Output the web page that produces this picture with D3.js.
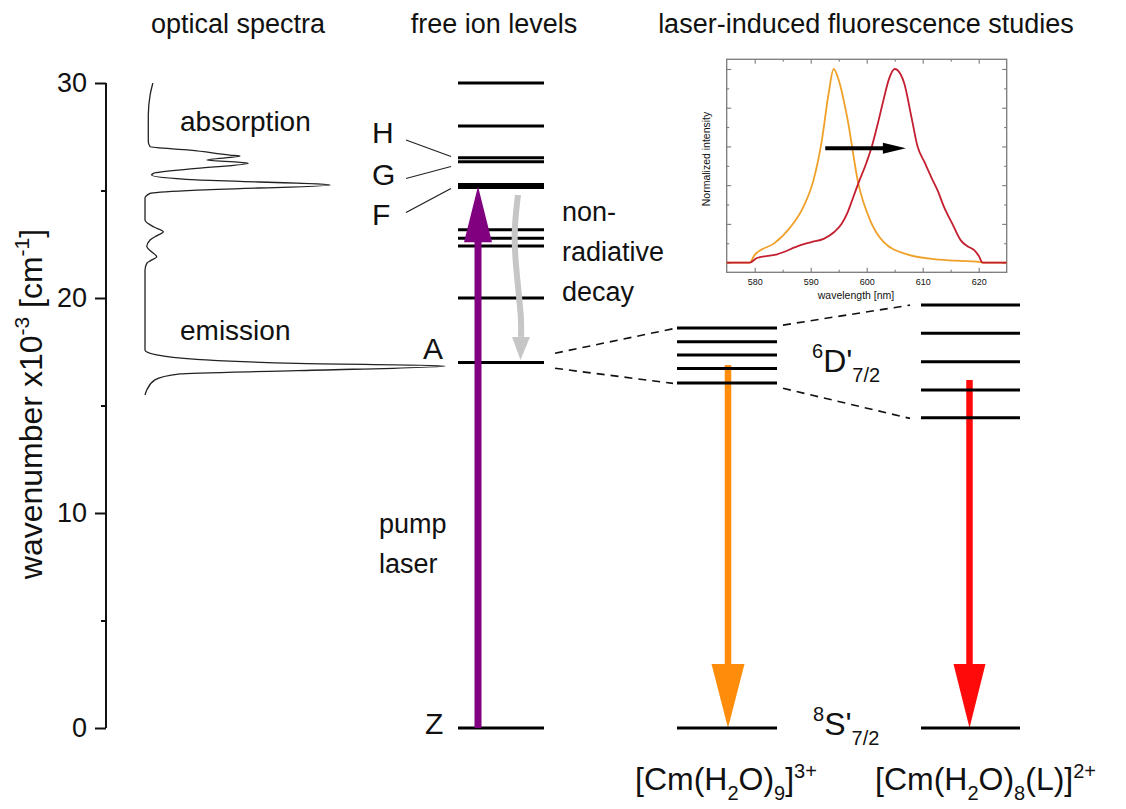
<!DOCTYPE html>
<html>
<head>
<meta charset="utf-8">
<script src="https://cdn.jsdelivr.net/npm/d3@7"></script>
<style>
  body { margin: 0; background: #fff; }
  svg { display: block; }
  text { font-family: "Liberation Sans", Arial, sans-serif; fill: #111; }
</style>
</head>
<body>
<svg id="chart" width="1126" height="809"></svg>
<script>
// ---- energy axis (wavenumber, 10^3 cm^-1) ----
const wnTicks = [0, 10, 20, 30];
const wnMinorTicks = [5, 15, 25];

// ---- free Cm(III) ion levels ----
const freeIonLevels = [30.0, 28.0, 26.52, 26.34, 25.28, 25.14, 23.17, 22.78, 22.42, 20.0, 17.0, 0];
const levelNames = ["H", "G", "F"];
const levelNameTargets = [26.52, 26.43, 25.2];   // where the pointer lines end
const emittingLevel = 17.0;                      // A
const groundLevel = 0;                           // Z

// ---- crystal-field split 6D'7/2 levels ----
const aquoLevels = [18.60, 17.97, 17.35, 16.72, 16.05];    // [Cm(H2O)9]3+
const ligandLevels = [19.67, 18.36, 17.03, 15.72, 14.43];  // [Cm(H2O)8(L)]2+

// ---- transitions ----
const pumpTransition = [0, 25.2];
const decayTransition = [24.79, 17.12];
const aquoEmission = [16.88, 0];
const ligandEmission = [16.19, 0];

// dashed connectors (start / end wavenumber)
const splitLinksFrom = [17.43, 16.73];
const splitLinksTo = [18.57, 16.03];
const shiftLinksFrom = [18.74, 15.80];
const shiftLinksTo = [19.67, 14.40];

// ---- optical spectrum (absorption + emission), relative intensity ----
const spectrumWn = [29.99, 29.44, 28.5, 27.27, 27.04, 26.88, 26.65, 26.60, 26.42, 26.31, 26.27, 26.03,
  25.80, 25.72, 25.49, 25.26, 25.02, 24.87, 24.64, 23.63, 23.30, 23.08, 22.90, 22.70, 22.39, 22.15,
  21.92, 21.75, 21.61, 21.30, 17.58, 17.35, 17.15, 16.96, 16.84, 16.62, 16.47, 16.19, 15.72, 15.49];
const spectrumInt = [0.026, 0.017, 0.011, 0.011, 0.017, 0.15, 0.283, 0.317, 0.206, 0.317, 0.344, 0.172,
  0.028, 0.022, 0.172, 0.617, 0.172, 0.017, 0.0, 0.0, 0.03, 0.061, 0.04, 0.017, 0.006, 0.022,
  0.039, 0.02, 0.006, 0.0, 0.0, 0.039, 0.172, 0.506, 1.0, 0.506, 0.117, 0.033, 0.006, 0.0];

// ---- fluorescence spectra (normalized) ----
const aquoWl = [575, 579.1, 580.0, 580.7, 583.4, 586.4, 588.7, 590.5, 592.0, 593.2, 594.1, 595.0, 596.5,
  598.5, 600.6, 603.0, 607.2, 613.1, 620.3, 621.0, 625];
const aquoInt = [0, 0, 0.04, 0.058, 0.098, 0.184, 0.288, 0.426, 0.633, 0.874, 1.0, 0.943, 0.753,
  0.409, 0.219, 0.107, 0.043, 0.015, 0.003, 0, 0];
const ligandWl = [575, 579.1, 580.4, 584.0, 588.2, 590.0, 592.4, 594.2, 595.5, 596.5, 597.5, 598.5, 600.0,
  600.9, 602.0, 603.0, 604.0, 605.0, 606.0, 606.7, 608.0, 609.1, 610.3, 611.5, 612.7, 613.8, 615.3,
  616.8, 618.0, 619.2, 620.0, 620.7, 625];
const ligandInt = [0, 0, 0.024, 0.043, 0.09, 0.105, 0.124, 0.158, 0.2, 0.253, 0.33, 0.409, 0.52,
  0.598, 0.72, 0.84, 0.95, 1.0, 0.975, 0.926, 0.75, 0.598, 0.52, 0.443, 0.37, 0.288, 0.2,
  0.115, 0.085, 0.064, 0.035, 0, 0];
const insetXTicks = [580, 590, 600, 610, 620];
const insetXMinor = [585, 595, 605, 615];
const insetYTicks = [0, 0.2, 0.4, 0.6, 0.8, 1.0];
const insetYMinor = [0.1, 0.3, 0.5, 0.7, 0.9];
const shiftArrow = [592.6, 607.0, 0.59];   // from wl, to wl, at intensity

// ================= drawing =================
const svg = d3.select("#chart");
const y = d3.scaleLinear().domain([0, 30]).range([728, 83]);

// column extents
const colFree = [458, 544], colAquo = [677, 777], colLig = [921, 1020];

// ---- titles ----
const titles = [["optical spectra", 238], ["free ion levels", 494], ["laser-induced fluorescence studies", 866]];
svg.selectAll("text.title").data(titles).join("text")
  .attr("class", "title").attr("x", d => d[1]).attr("y", 33)
  .attr("text-anchor", "middle").attr("font-size", 27).text(d => d[0]);

// ---- left axis ----
const axisG = svg.append("g").attr("transform", "translate(106,0)");
axisG.call(d3.axisLeft(y).tickValues(wnTicks).tickSize(11).tickPadding(8).tickFormat(d3.format("d")));
axisG.append("g").call(d3.axisLeft(y).tickValues(wnMinorTicks).tickSize(5).tickFormat(""))
  .select(".domain").remove();
axisG.selectAll(".domain, line").attr("stroke", "#111").attr("stroke-width", 2);
axisG.select(".domain").attr("d", `M0,${y(30)}V${y(0)}`);
axisG.selectAll("text").attr("font-size", 27).attr("font-family", '"Liberation Sans", Arial, sans-serif').attr("fill", "#111");

const yTitle = svg.append("text").attr("transform", "translate(42,404) rotate(-90)")
  .attr("text-anchor", "middle").attr("font-size", 32);
yTitle.append("tspan").text("wavenumber x10");
yTitle.append("tspan").attr("font-size", 21).attr("dy", -13).text("-3");
yTitle.append("tspan").attr("dy", 13).text(" [cm");
yTitle.append("tspan").attr("font-size", 21).attr("dy", -13).text("-1");
yTitle.append("tspan").attr("dy", 13).text("]");

// ---- optical spectrum ----
const sx = d3.scaleLinear().domain([0, 1]).range([145, 445]);
const spectrum = spectrumWn.map((w, i) => [sx(spectrumInt[i]), y(w)]);
svg.append("path").attr("d", d3.line().curve(d3.curveMonotoneY)(spectrum))
  .attr("fill", "none").attr("stroke", "#222").attr("stroke-width", 1.3);
svg.append("text").attr("x", 180).attr("y", 131).attr("font-size", 28).text("absorption");
svg.append("text").attr("x", 180).attr("y", 340).attr("font-size", 28).text("emission");

// ---- arrows ----
function verticalArrow(x, fromWn, toWn, color, shaftW, headLen, headW) {
  const y0 = y(fromWn), y1 = y(toWn);
  const dir = Math.sign(y1 - y0);
  const yb = y1 - dir * headLen;
  svg.append("line").attr("x1", x).attr("x2", x).attr("y1", y0).attr("y2", yb + dir)
    .attr("stroke", color).attr("stroke-width", shaftW);
  svg.append("path").attr("d", `M${x - headW / 2},${yb}L${x + headW / 2},${yb}L${x},${y1}Z`)
    .attr("fill", color);
}

// emission arrows sit beneath the split levels
verticalArrow((colAquo[0] + colAquo[1]) / 2 + 1, aquoEmission[0], aquoEmission[1], "#ff8c0a", 6.5, 64, 33);
verticalArrow((colLig[0] + colLig[1]) / 2 - 1, ligandEmission[0], ligandEmission[1], "#ff0a0a", 6.5, 64, 32);

// ---- level lines ----
function levels(vals, col) {
  svg.append("g").selectAll("line").data(vals).join("line")
    .attr("x1", col[0]).attr("x2", col[1]).attr("y1", d => y(d)).attr("y2", d => y(d))
    .attr("stroke", "#000").attr("stroke-width", 3);
}
levels(freeIonLevels, colFree);
levels(aquoLevels, colAquo);
levels([groundLevel], colAquo);
levels(ligandLevels, colLig);
levels([groundLevel], colLig);

// pump laser and non-radiative decay
verticalArrow(478, pumpTransition[0], pumpTransition[1], "#800080", 7, 56, 28);

const decayPts = [[518, decayTransition[0]], [513, 22.85], [518, 20.53], [521.5, 18.98], [521, 18.19]]
  .map(d => [d[0], y(d[1])]);
svg.append("path").attr("d", d3.line().curve(d3.curveBasis)(decayPts))
  .attr("fill", "none").attr("stroke", "#c6c6c6").attr("stroke-width", 6);
{
  const tip = y(decayTransition[1]), base = y(18.19);
  svg.append("path").attr("d", `M${512},${base}L${530},${base}L${520.5},${tip}Z`).attr("fill", "#c6c6c6");
}

// ---- level labels ----
svg.selectAll("text.lvl").data(levelNames).join("text").attr("class", "lvl")
  .attr("x", 372).attr("y", (d, i) => [143, 185, 225][i]).attr("font-size", 30).text(d => d);
svg.append("g").selectAll("line").data(levelNameTargets).join("line")
  .attr("x1", 406).attr("y1", (d, i) => [140, 178.5, 212.5][i])
  .attr("x2", 451).attr("y2", (d, i) => [156.5, 166.5, 188.5][i])
  .attr("stroke", "#222").attr("stroke-width", 1.2);
svg.append("text").attr("x", 423).attr("y", y(emittingLevel) - 4).attr("font-size", 30).text("A");
svg.append("text").attr("x", 425).attr("y", y(groundLevel) + 6).attr("font-size", 30).text("Z");

svg.append("text").attr("x", 379).attr("y", 533).attr("font-size", 27).text("pump");
svg.append("text").attr("x", 379).attr("y", 573).attr("font-size", 27).text("laser");
["non-", "radiative", "decay"].forEach((t, i) =>
  svg.append("text").attr("x", 562).attr("y", 221 + 40 * i).attr("font-size", 27).text(t));

// ---- dashed connectors ----
const dash = svg.append("g").attr("stroke", "#111").attr("stroke-width", 1.6)
  .attr("stroke-dasharray", "8,6").attr("fill", "none");
splitLinksFrom.forEach((w, i) =>
  dash.append("line").attr("x1", 555).attr("y1", y(w)).attr("x2", 673).attr("y2", y(splitLinksTo[i])));
shiftLinksFrom.forEach((w, i) =>
  dash.append("line").attr("x1", 783).attr("y1", y(w)).attr("x2", 910).attr("y2", y(shiftLinksTo[i])));

// ---- term symbols ----
function term(x, baseY, sup, main, sub) {
  const t = svg.append("text").attr("x", x).attr("y", baseY);
  t.append("tspan").attr("font-size", 20).attr("dy", -14).text(sup);
  t.append("tspan").attr("font-size", 32).attr("dy", 14).text(main);
  t.append("tspan").attr("font-size", 20).attr("dy", 10).text(sub);
}
term(812, 372, "6", "D'", "7/2");
term(813, 735, "8", "S'", "7/2");

// ---- complex labels ----
function formula(x, baseY, parts) {
  const t = svg.append("text").attr("x", x).attr("y", baseY).attr("font-size", 32);
  let off = 0;
  parts.forEach(p => {
    const shift = p[1] === "sub" ? 10 : p[1] === "sup" ? -12 : 0;
    t.append("tspan").attr("dy", shift - off).attr("font-size", p[1] ? 20 : 32).text(p[0]);
    off = shift;
  });
}
formula(635, 790, [["[Cm(H"], ["2", "sub"], ["O)"], ["9", "sub"], ["]"], ["3+", "sup"]]);
formula(875, 790, [["[Cm(H"], ["2", "sub"], ["O)"], ["8", "sub"], ["(L)]"], ["2+", "sup"]]);

// ---- inset: fluorescence spectra ----
const ix = d3.scaleLinear().domain([575, 625]).range([726.7, 1006.7]);
const iy = d3.scaleLinear().domain([-0.05, 1.05]).range([272.3, 59.3]);
const inset = svg.append("g");
const boxColor = "#7a7a7a";

function insetAxis(axisFn, scale, ticks, size, transform, labels) {
  const g = inset.append("g").attr("transform", transform)
    .call(axisFn(scale).tickValues(ticks).tickSize(-size).tickPadding(6)
      .tickFormat(labels ? d3.format("d") : ""));
  g.select(".domain").remove();
  g.selectAll("line").attr("stroke", boxColor).attr("stroke-width", 1.1);
  g.selectAll("text").attr("font-size", 9).attr("fill", "#444")
    .attr("font-family", '"Liberation Sans", Arial, sans-serif');
}
insetAxis(d3.axisBottom, ix, insetXTicks, 4.5, "translate(0,272.3)", true);
insetAxis(d3.axisBottom, ix, insetXMinor, 2.5, "translate(0,272.3)", false);
insetAxis(d3.axisTop, ix, insetXTicks, 4.5, "translate(0,59.3)", false);
insetAxis(d3.axisTop, ix, insetXMinor, 2.5, "translate(0,59.3)", false);
insetAxis(d3.axisLeft, iy, insetYTicks, 4.5, "translate(726.7,0)", false);
insetAxis(d3.axisLeft, iy, insetYMinor, 2.5, "translate(726.7,0)", false);
insetAxis(d3.axisRight, iy, insetYTicks, 4.5, "translate(1006.7,0)", false);
insetAxis(d3.axisRight, iy, insetYMinor, 2.5, "translate(1006.7,0)", false);
inset.append("rect").attr("x", 726.7).attr("y", 59.3).attr("width", 280).attr("height", 213)
  .attr("fill", "none").attr("stroke", boxColor).attr("stroke-width", 1.3);

const iline = d3.line().curve(d3.curveMonotoneX).x(d => ix(d[0])).y(d => iy(d[1]));
inset.append("path").attr("d", iline(aquoWl.map((w, i) => [w, aquoInt[i]])))
  .attr("fill", "none").attr("stroke", "#f0a028").attr("stroke-width", 1.8);
inset.append("path").attr("d", iline(ligandWl.map((w, i) => [w, ligandInt[i]])))
  .attr("fill", "none").attr("stroke", "#c41f30").attr("stroke-width", 1.8);

{
  const x0 = ix(shiftArrow[0]), x1 = ix(shiftArrow[1]), ya = iy(shiftArrow[2]);
  inset.append("line").attr("x1", x0).attr("x2", x1 - 20).attr("y1", ya).attr("y2", ya)
    .attr("stroke", "#000").attr("stroke-width", 4);
  inset.append("path").attr("d", `M${x1 - 23},${ya - 5.5}L${x1},${ya}L${x1 - 23},${ya + 5.5}Z`).attr("fill", "#000");
}

inset.append("text").attr("x", 856).attr("y", 299).attr("text-anchor", "middle")
  .attr("font-size", 10.5).attr("fill", "#333").text("wavelength [nm]");
inset.append("text").attr("transform", "translate(710,159) rotate(-90)").attr("text-anchor", "middle")
  .attr("font-size", 10.5).attr("fill", "#333").text("Normalized intensity");
</script>
</body>
</html>
